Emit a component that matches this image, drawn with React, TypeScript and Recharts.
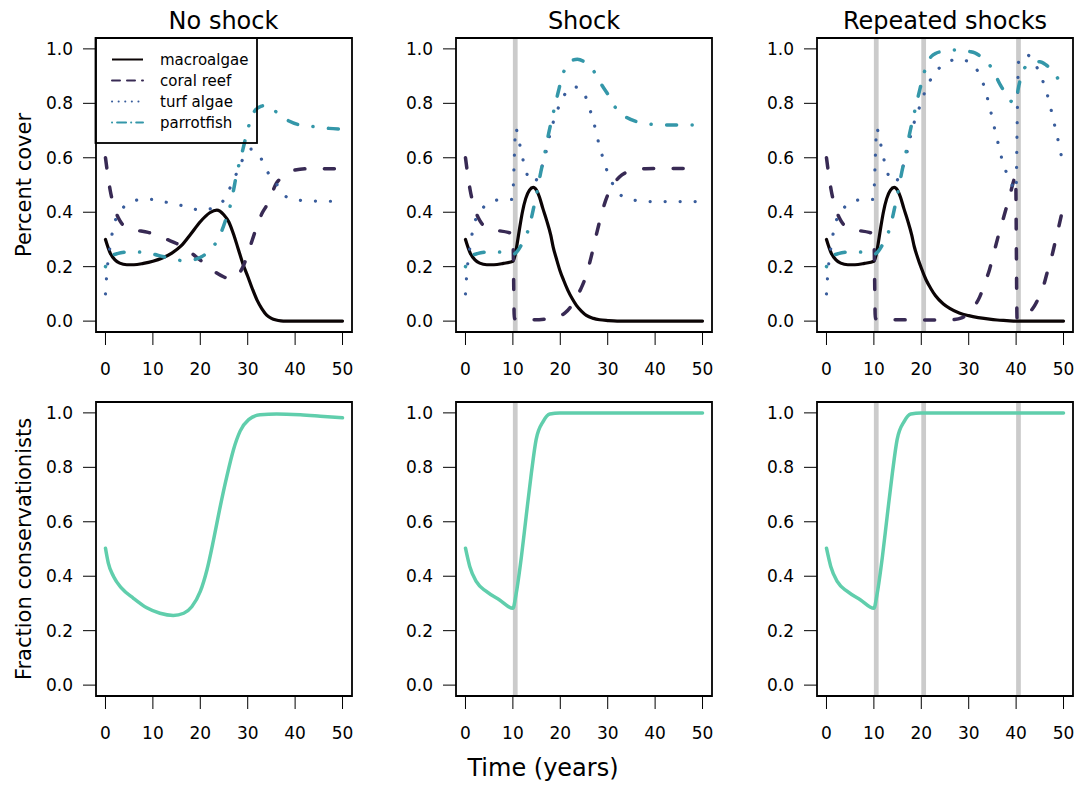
import React from "react";
import { LineChart, Line, XAxis, YAxis, ReferenceArea } from "recharts";

type Pt = [number, number];

const years = [0, 10, 20, 30, 40, 50];
const fracTicks = [0, 0.2, 0.4, 0.6, 0.8, 1];
const panelTitles = ["No shock", "Shock", "Repeated shocks"];
const seriesNames = ["macroalgae", "coral reef", "turf algae", "parrotfish"];

const shocksNone: number[] = [];
const shocksSingle = [10];
const shocksRepeated = [10, 20, 40];

// --- No shock ---
const macroNoShock: Pt[] = [
  [0, 0.3], [1, 0.25], [2, 0.225], [3, 0.213], [4.5, 0.207], [6, 0.207], [8, 0.212],
  [10, 0.22], [12, 0.232], [14, 0.25], [16, 0.277], [18, 0.32], [20, 0.365], [22, 0.398],
  [23.5, 0.408], [25, 0.39], [26, 0.365], [27, 0.32], [28, 0.265], [29, 0.21], [30, 0.165],
  [31, 0.118], [32, 0.076], [33, 0.045], [34, 0.022], [35, 0.01], [36, 0.004], [37, 0.001],
  [38, 0], [50, 0],
];
const coralNoShock: Pt[] = [
  [0, 0.6], [0.5, 0.535], [1, 0.48], [1.5, 0.44], [2, 0.41], [3, 0.37], [4, 0.348], [5, 0.337],
  [7, 0.332], [9, 0.326], [11, 0.315], [13, 0.3], [15, 0.285], [17, 0.265], [19, 0.238],
  [21, 0.21], [23, 0.182], [25, 0.162], [26, 0.155], [27, 0.157], [28, 0.17], [29, 0.2],
  [30, 0.245], [31, 0.3], [32, 0.35], [33, 0.395], [34, 0.425], [35, 0.465], [36, 0.505],
  [37, 0.525], [38, 0.54], [40, 0.555], [43, 0.56], [50, 0.56],
];
const turfNoShock: Pt[] = [
  [0, 0.1], [0.2, 0.155], [0.5, 0.215], [0.9, 0.266], [1.4, 0.321], [2.1, 0.371], [3, 0.4],
  [3.9, 0.42], [5, 0.435], [6.5, 0.444], [8, 0.448], [10, 0.447], [12, 0.44], [14, 0.432],
  [16, 0.425], [18, 0.415], [20, 0.408], [22.2, 0.413], [24.7, 0.439], [26.2, 0.487],
  [27.5, 0.537], [28.8, 0.589], [30, 0.625], [30.8, 0.632], [32, 0.616], [32.8, 0.598],
  [34.2, 0.548], [36.1, 0.503], [37.8, 0.461], [39.5, 0.448], [40.9, 0.444], [44, 0.441],
  [50, 0.44],
];
const parrotNoShock: Pt[] = [
  [0, 0.2], [0.5, 0.222], [1, 0.235], [2.5, 0.248], [5, 0.254], [8, 0.253], [11, 0.242],
  [14, 0.229], [16.5, 0.222], [19, 0.227], [21, 0.245], [22.5, 0.27], [23.5, 0.293],
  [24.5, 0.33], [25.5, 0.38], [26.4, 0.43], [27, 0.48], [27.6, 0.535], [28.3, 0.585],
  [29, 0.632], [29.6, 0.675], [30.4, 0.727], [31.6, 0.775], [33, 0.79], [34, 0.793],
  [35, 0.785], [36.2, 0.765], [38.7, 0.735], [41.1, 0.72], [44.3, 0.714], [47.1, 0.708],
  [50, 0.705],
];
const consNoShock: Pt[] = [
  [0, 0.503], [0.6, 0.448], [1.7, 0.399], [3.4, 0.356], [5.9, 0.319], [8.7, 0.284],
  [11.5, 0.264], [14.3, 0.256], [16.5, 0.264], [18.2, 0.288], [20, 0.344], [21.4, 0.423],
  [22.8, 0.534], [24.2, 0.656], [25.6, 0.767], [27, 0.865], [28.4, 0.933], [30.2, 0.975],
  [32.6, 0.993], [36.1, 0.996], [41.1, 0.993], [45.3, 0.988], [50, 0.982],
];

// --- Single shock at year 10 ---
const macroShock: Pt[] = [
  [0, 0.3], [1, 0.25], [2, 0.225], [3, 0.213], [4.5, 0.207], [6, 0.207], [8, 0.212],
  [10, 0.22], [10.5, 0.245], [11, 0.295], [11.5, 0.35], [12, 0.4], [12.7, 0.45], [13.5, 0.481],
  [14.3, 0.491], [15, 0.48], [15.6, 0.456], [16.3, 0.415], [17.1, 0.371], [18, 0.315],
  [18.5, 0.272], [19.2, 0.228], [19.9, 0.187], [20.7, 0.15], [21.6, 0.113], [22.5, 0.083],
  [23.4, 0.058], [24.5, 0.036], [25.5, 0.021], [27, 0.01], [28.3, 0.005], [30, 0.002],
  [32, 0], [50, 0],
];
const coralShock: Pt[] = [
  [0, 0.6], [0.5, 0.535], [1, 0.48], [1.5, 0.44], [2, 0.41], [3, 0.37], [4, 0.348], [5, 0.337],
  [7, 0.332], [9, 0.326], [10, 0.32], [10.3, 0.01], [11, 0.006], [14, 0.005], [17, 0.008],
  [19, 0.015], [21, 0.03], [22.5, 0.06], [23.5, 0.09], [24.5, 0.125], [25.5, 0.17],
  [26.5, 0.235], [27.5, 0.31], [28.5, 0.38], [29.5, 0.44], [30.5, 0.482], [31.5, 0.51],
  [33, 0.537], [35, 0.552], [38, 0.56], [50, 0.561],
];
const turfShock: Pt[] = [
  [0, 0.1], [0.2, 0.155], [0.5, 0.215], [0.9, 0.266], [1.4, 0.321], [2.1, 0.371], [3, 0.4],
  [3.9, 0.42], [5, 0.435], [6.5, 0.444], [8, 0.448], [9.8, 0.447], [10.1, 0.5], [10.3, 0.6],
  [10.6, 0.71], [11, 0.685], [11.5, 0.645], [12, 0.603], [12.7, 0.555], [13.5, 0.52],
  [14.5, 0.51], [15.5, 0.54], [16.7, 0.6], [17.6, 0.67], [18.5, 0.73], [19.5, 0.78],
  [20.3, 0.81], [21.8, 0.854], [23, 0.86], [24.4, 0.852], [25.8, 0.803], [26.7, 0.75],
  [27.5, 0.7], [28.2, 0.646], [29.1, 0.594], [30.1, 0.54], [31.4, 0.494], [33.3, 0.456],
  [36.6, 0.442], [40, 0.439], [50, 0.439],
];
const parrotShock: Pt[] = [
  [0, 0.2], [0.5, 0.222], [1, 0.235], [2.5, 0.248], [5, 0.254], [8, 0.253], [10, 0.245],
  [11, 0.258], [11.8, 0.28], [12.7, 0.31], [13.5, 0.35], [14.3, 0.41], [15.1, 0.475],
  [15.8, 0.54], [16.6, 0.604], [17.4, 0.677], [18.5, 0.763], [19.5, 0.837], [20.6, 0.91],
  [21.5, 0.942], [22.5, 0.958], [23.6, 0.962], [24.8, 0.955], [26, 0.937], [27.1, 0.917],
  [28.5, 0.874], [29.9, 0.837], [31.4, 0.79], [33.5, 0.754], [36, 0.733], [38.8, 0.724],
  [41.7, 0.72], [50, 0.72],
];
const consShock: Pt[] = [
  [0, 0.503], [0.9, 0.436], [2.3, 0.38], [4.4, 0.344], [7.2, 0.313], [10, 0.282],
  [10.7, 0.337], [11.8, 0.472], [12.8, 0.62], [13.9, 0.779], [14.9, 0.902], [16.4, 0.969],
  [17.8, 0.996], [19.9, 1], [50, 1],
];

// --- Shocks at years 10, 20 and 40 ---
const macroRepeated: Pt[] = [
  [0, 0.3], [1, 0.25], [2, 0.225], [3, 0.213], [4.5, 0.207], [6, 0.207], [8, 0.212],
  [10, 0.22], [10.5, 0.245], [11, 0.295], [11.5, 0.35], [12, 0.4], [12.7, 0.45], [13.5, 0.481],
  [14.3, 0.491], [15, 0.48], [15.6, 0.456], [16.3, 0.415], [17.1, 0.371], [18, 0.315],
  [18.5, 0.275], [19.2, 0.235], [20, 0.195], [21, 0.152], [22, 0.12], [23, 0.093],
  [24.6, 0.064], [26, 0.047], [28, 0.03], [30, 0.02], [32, 0.013], [34, 0.008], [36, 0.004],
  [38, 0.002], [40, 0], [50, 0],
];
const coralRepeated: Pt[] = [
  [0, 0.6], [0.5, 0.535], [1, 0.48], [1.5, 0.44], [2, 0.41], [3, 0.37], [4, 0.348], [5, 0.337],
  [7, 0.332], [9, 0.326], [10, 0.32], [10.3, 0.01], [11, 0.006], [15, 0.005], [20, 0.004],
  [25, 0.004], [27, 0.006], [28.5, 0.012], [29.5, 0.021], [31, 0.05], [32.3, 0.088],
  [33.4, 0.14], [34.4, 0.19], [35.3, 0.25], [36.2, 0.31], [37.1, 0.365], [38, 0.42],
  [38.8, 0.47], [39.4, 0.51], [39.9, 0.535], [40.2, 0.01], [41, 0.007], [42, 0.018],
  [43, 0.035], [44, 0.06], [45, 0.095], [45.7, 0.125], [46.5, 0.175], [47.5, 0.236],
  [48.5, 0.31], [49.3, 0.37], [50, 0.425],
];
const turfRepeated: Pt[] = [
  [0, 0.1], [0.2, 0.155], [0.5, 0.215], [0.9, 0.266], [1.4, 0.321], [2.1, 0.371], [3, 0.4],
  [3.9, 0.42], [5, 0.435], [6.5, 0.444], [8, 0.448], [9.8, 0.447], [10.1, 0.5], [10.3, 0.6],
  [10.6, 0.71], [11, 0.685], [11.5, 0.645], [12, 0.603], [12.7, 0.555], [13.5, 0.52],
  [14.5, 0.51], [15.5, 0.54], [16.7, 0.6], [17.6, 0.67], [18.5, 0.73], [19.5, 0.78],
  [20.2, 0.81], [20.7, 0.84], [21.6, 0.875], [22.6, 0.905], [23.7, 0.928], [24.9, 0.944],
  [26.3, 0.957], [27.7, 0.963], [29.2, 0.958], [30.6, 0.947], [31.5, 0.93], [32.3, 0.904],
  [33, 0.875], [33.6, 0.845], [34.2, 0.8], [35, 0.745], [35.6, 0.696], [36.4, 0.64],
  [37.1, 0.589], [38.2, 0.536], [39.5, 0.49], [40, 0.48], [40.2, 0.7], [40.5, 0.95],
  [41.2, 0.975], [42.2, 0.98], [43.3, 0.962], [44.3, 0.935], [45.5, 0.888], [46.5, 0.837],
  [47.3, 0.782], [48, 0.729], [48.7, 0.677], [49.3, 0.626], [50, 0.575],
];
const parrotRepeated: Pt[] = [
  [0, 0.2], [0.5, 0.222], [1, 0.235], [2.5, 0.248], [5, 0.254], [8, 0.253], [10, 0.245],
  [11, 0.258], [11.8, 0.28], [12.7, 0.31], [13.5, 0.35], [14.3, 0.41], [15.1, 0.475],
  [15.8, 0.54], [16.6, 0.604], [17.4, 0.677], [18.5, 0.763], [19.5, 0.837], [20.4, 0.9],
  [21.2, 0.945], [22.1, 0.972], [23.2, 0.985], [24.2, 0.99], [25.7, 0.994], [27.2, 0.996],
  [28.7, 0.994], [30.2, 0.99], [31.3, 0.985], [32.3, 0.975], [33.4, 0.96], [34.4, 0.941],
  [35.1, 0.92], [35.8, 0.898], [36.5, 0.873], [37.3, 0.849], [38, 0.828], [38.7, 0.812],
  [39.4, 0.803], [40, 0.805], [40.4, 0.849], [41, 0.895], [41.5, 0.922], [42.5, 0.94],
  [43.6, 0.948], [45, 0.953], [46.4, 0.94], [47.8, 0.917], [49, 0.885], [50, 0.85],
];
const consRepeated: Pt[] = [
  [0, 0.503], [0.9, 0.436], [2.3, 0.38], [4.4, 0.344], [7.2, 0.313], [10, 0.282],
  [10.7, 0.337], [11.8, 0.472], [12.8, 0.62], [13.9, 0.779], [14.9, 0.902], [16.4, 0.969],
  [17.8, 0.996], [19.9, 1], [50, 1],
];

// line looks, in series order: macroalgae, coral reef, turf algae, parrotfish
const speciesStyle = [
  { color: "#0B0405", width: 3.2, dash: undefined as string | undefined },
  { color: "#382A54", width: 3.5, dash: "10 19.5" },
  { color: "#395D9C", width: 3.2, dash: "0.1 14.9" },
  { color: "#3497A9", width: 3.5, dash: "0.1 15.5 10 15.5" },
];
const legendDash = [undefined, "8 7", "0.1 6.5", "0.1 5 9 5"];
const consStyle = { color: "#60CEAC", width: 3.5, dash: undefined as string | undefined };

const FONT = "DejaVu Sans";
const BOX_W = 256;
const BOX_H = 294;
const Y_AXIS_W = 90;
const X_AXIS_H = 60;
const TOP_PAD = 10;
const boxLefts = [95.5, 456, 817];
const topRowY = 38;
const bottomRowY = 402;

const toRows = (pts: Pt[]) => pts.map(([t, v]) => ({ t, v }));

type Series = { key: string; pts: Pt[]; style: typeof consStyle };

function Panel({ left, top, series, shocks }: { left: number; top: number; series: Series[]; shocks: number[] }) {
  const tickStyle = { fill: "#000", fontSize: 17, fontFamily: FONT };
  return (
    <div style={{ position: "absolute", left: left - Y_AXIS_W, top: top - TOP_PAD }}>
      <LineChart
        width={Y_AXIS_W + BOX_W + 10}
        height={TOP_PAD + BOX_H + X_AXIS_H}
        margin={{ top: TOP_PAD, right: 10, bottom: 0, left: 0 }}
      >
        <XAxis
          type="number"
          dataKey="t"
          domain={[-2, 52]}
          ticks={years}
          interval={0}
          allowDataOverflow
          axisLine={false}
          tickSize={13}
          tickMargin={18}
          stroke="#000"
          height={X_AXIS_H}
          tick={tickStyle}
        />
        <YAxis
          type="number"
          domain={[-0.04, 1.04]}
          ticks={fracTicks}
          interval={0}
          allowDataOverflow
          axisLine={false}
          tickSize={13}
          tickMargin={10}
          stroke="#000"
          width={Y_AXIS_W}
          tick={tickStyle}
          tickFormatter={(v: number) => v.toFixed(1)}
        />
        {shocks.map((s) => (
          <ReferenceArea
            key={"shock" + s}
            x1={s}
            x2={s + 1}
            y1={-0.04}
            y2={1.04}
            fill="#8c8c8c"
            fillOpacity={0.45}
            stroke="none"
            ifOverflow="visible"
          />
        ))}
        {series.map((s) => (
          <Line
            key={s.key}
            data={toRows(s.pts)}
            dataKey="v"
            type="monotone"
            stroke={s.style.color}
            strokeWidth={s.style.width}
            strokeDasharray={s.style.dash}
            strokeLinecap="round"
            dot={false}
            activeDot={false}
            isAnimationActive={false}
          />
        ))}
        <ReferenceArea
          x1={-2}
          x2={52}
          y1={-0.04}
          y2={1.04}
          fill="none"
          stroke="#000"
          strokeWidth={1.8}
          ifOverflow="visible"
        />
      </LineChart>
    </div>
  );
}

const speciesPanels = [
  [macroNoShock, coralNoShock, turfNoShock, parrotNoShock],
  [macroShock, coralShock, turfShock, parrotShock],
  [macroRepeated, coralRepeated, turfRepeated, parrotRepeated],
];
const consPanels = [consNoShock, consShock, consRepeated];
const panelShocks = [shocksNone, shocksSingle, shocksRepeated];

export default function App() {
  return (
    <div
      style={{
        position: "absolute",
        left: 0,
        top: 0,
        width: 1078,
        height: 786,
        background: "#fff",
        fontFamily: FONT,
      }}
    >
      {boxLefts.map((left, i) => (
        <Panel
          key={"top" + i}
          left={left}
          top={topRowY}
          shocks={panelShocks[i]}
          series={speciesPanels[i].map((pts, j) => ({ key: seriesNames[j], pts, style: speciesStyle[j] }))}
        />
      ))}
      {boxLefts.map((left, i) => (
        <Panel
          key={"bottom" + i}
          left={left}
          top={bottomRowY}
          shocks={panelShocks[i]}
          series={[{ key: "conservationists", pts: consPanels[i], style: consStyle }]}
        />
      ))}

      <svg
        width={1078}
        height={786}
        style={{ position: "absolute", left: 0, top: 0, pointerEvents: "none" }}
        fontFamily={FONT}
      >
        {panelTitles.map((title, i) => (
          <text key={title} x={boxLefts[i] + BOX_W / 2} y={29} textAnchor="middle" fontSize={24} fill="#000">
            {title}
          </text>
        ))}
        <text transform="rotate(-90)" x={-(topRowY + BOX_H / 2)} y={31} textAnchor="middle" fontSize={21} fill="#000">
          Percent cover
        </text>
        <text transform="rotate(-90)" x={-(bottomRowY + BOX_H / 2)} y={31} textAnchor="middle" fontSize={21} fill="#000">
          Fraction conservationists
        </text>
        <text x={543} y={776} textAnchor="middle" fontSize={24} fill="#000">
          Time (years)
        </text>

        {/* legend in the first panel */}
        <rect x={95.5} y={38} width={161.5} height={105} fill="none" stroke="#000" strokeWidth={1.8} />
        {seriesNames.map((name, j) => {
          const y = 59.5 + j * 21;
          return (
            <g key={name}>
              <line
                x1={112}
                x2={143}
                y1={y}
                y2={y}
                stroke={speciesStyle[j].color}
                strokeWidth={2}
                strokeDasharray={legendDash[j]}
                strokeLinecap={j === 0 ? "butt" : "round"}
              />
              <text x={160} y={y} dy="0.35em" fontSize={15} fill="#000">
                {name}
              </text>
            </g>
          );
        })}
      </svg>
    </div>
  );
}
